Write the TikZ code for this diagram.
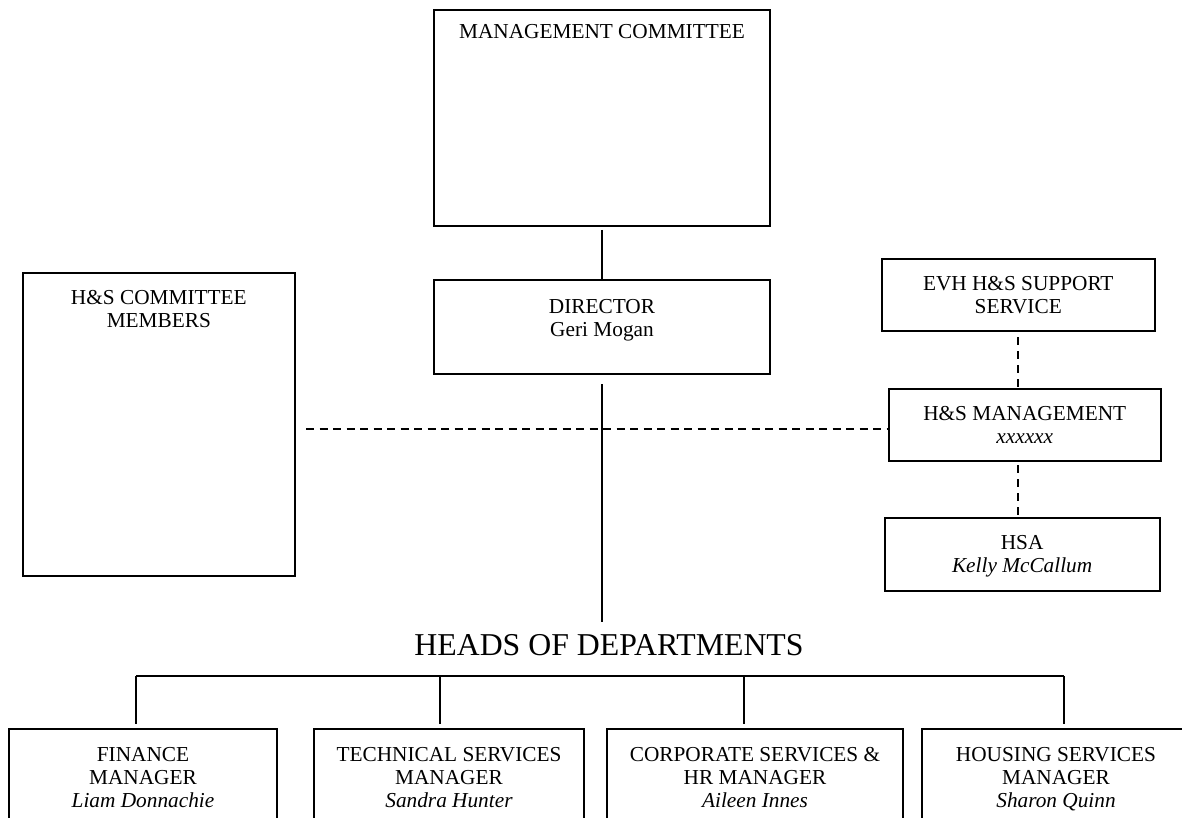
\documentclass[tikz,border=0pt]{standalone}
\usepackage{fontspec}
\setmainfont{Liberation Serif}
\newcommand\bxt[4]{\begin{minipage}[c][#2pt][t]{#1pt}\centering\vspace*{\dimexpr#3pt-16.1pt\relax}\leavevmode\strut#4\end{minipage}}
\begin{document}
\begin{tikzpicture}[x=1pt,y=-1pt,
  box/.style={draw, line width=2pt, inner sep=0pt, anchor=north west, font=\fontsize{21.3}{23}\selectfont},
  conn/.style={line width=1.8pt},
  hdash/.style={line width=1.7pt, dash pattern=on 8pt off 5.5pt},
  vdash/.style={line width=1.7pt, dash pattern=on 7.5pt off 6.5pt}]
\useasboundingbox (0,0) rectangle (1182,818);
\clip (0,0) rectangle (1182,818);
\node[box] (mc) at (433,9) {\bxt{336}{216}{29}{MANAGEMENT COMMITTEE}};
\node[box] (dir) at (433,279) {\bxt{336}{94}{33.5}{DIRECTOR\\Geri Mogan}};
\node[box] (hsc) at (21.7,272.3) {\bxt{272.3}{302.7}{31}{H\&S COMMITTEE\\MEMBERS}};
\node[box] (evh) at (880.5,257.5) {\bxt{273.5}{72.5}{31.5}{EVH H\&S SUPPORT\\SERVICE}};
\node[box] (hsm) at (887.5,387.5) {\bxt{272.5}{72.8}{32}{H\&S MANAGEMENT\\\textit{xxxxxx}}};
\node[box] (hsa) at (883.5,517) {\bxt{275.2}{73}{31.6}{HSA\\\textit{Kelly McCallum}}};
\node[box] (b1) at (8,728) {\bxt{268}{110}{32}{FINANCE\\MANAGER\\\textit{Liam Donnachie}}};
\node[box] (b2) at (313,728) {\bxt{270}{110}{32}{TECHNICAL SERVICES\\MANAGER\\\textit{Sandra Hunter}}};
\node[box] (b3) at (606,728) {\bxt{296}{110}{32}{CORPORATE SERVICES \&\\HR MANAGER\\\textit{Aileen Innes}}};
\node[box] (b4) at (921,728) {\bxt{268}{110}{32}{HOUSING SERVICES\\MANAGER\\\textit{Sharon Quinn}}};
\draw[conn] ([yshift=-3pt]mc.south) -- (dir.north);
\coordinate (dirend) at (601,622);
\draw[conn] ([yshift=-9pt]dir.south) -- (dir.south |- dirend);
\node[font=\fontsize{31.8}{34}\selectfont, anchor=base, inner sep=0pt] (heads) at (609,655) {HEADS OF DEPARTMENTS};
\coordinate (d1) at (136,676);
\coordinate (d2) at (440,676);
\coordinate (d3) at (744,676);
\coordinate (d4) at (1064,676);
\draw[conn] (d1) -- (d4);
\foreach \d/\b in {d1/b1,d2/b2,d3/b3,d4/b4} \draw[conn, shorten >=4pt] (\d) -- (\d |- \b.north);
\coordinate (dl) at (306,429);
\draw[hdash] (dl) -- (dl -| hsm.west);
\coordinate (v1) at (1017.7,337);
\draw[vdash] (v1) -- (v1 |- hsm.north);
\coordinate (v2) at (1017.7,465);
\draw[vdash, shorten >=2pt] (v2) -- (v2 |- hsa.north);
\end{tikzpicture}
\end{document}
